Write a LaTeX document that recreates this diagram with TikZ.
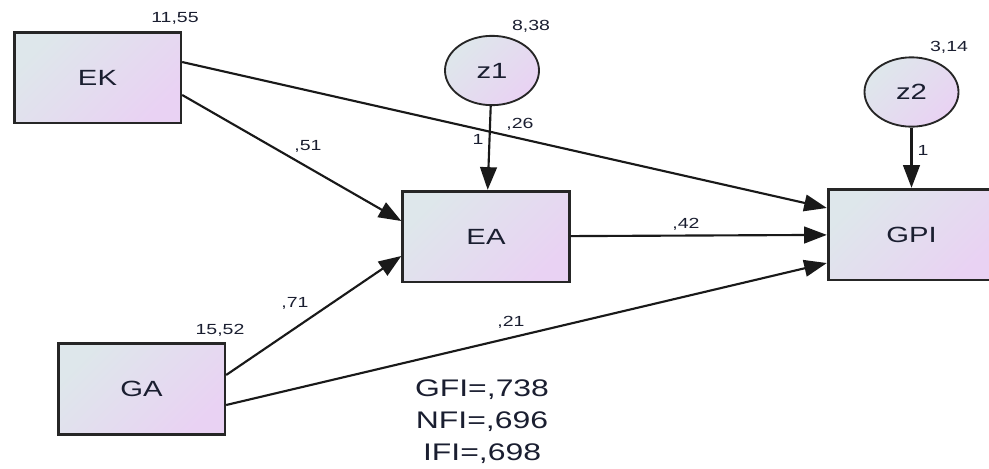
\documentclass[tikz,border=0pt]{standalone}
\usepackage{fontspec}
\setmainfont{Liberation Sans}
\usepackage{graphicx}
\usetikzlibrary{arrows.meta,shapes.geometric}
\definecolor{varA}{HTML}{DEE7EB}
\definecolor{varB}{HTML}{E9D2F3}
\definecolor{txtc}{HTML}{1A1E30}
% text in the diagram is set a little wider than the font
\newcommand{\wide}[1]{\scalebox{1.33}[1]{#1}}
\tikzset{
  var/.style={draw=black!85, line width=2pt, top color=varA, bottom color=varB, shading angle=45,
    minimum width=125pt, minimum height=68pt, inner sep=0pt, font=\fontsize{16.5}{18}\selectfont, text=txtc},
  err/.style={draw=black!85, line width=1.4pt, ellipse, top color=varA, bottom color=varB, shading angle=45,
    minimum width=70.5pt, minimum height=52pt, inner sep=0pt, font=\fontsize{16.5}{18}\selectfont, text=txtc},
  regarr/.style={-{Triangle[length=17pt, width=12.5pt]}, line width=1.6pt, black!90},
  est/.style={inner sep=0pt, font=\fontsize{11}{12}\selectfont, text=txtc},
}

\begin{document}
\begin{tikzpicture}[x=0.75pt, y=-0.75pt]
  \useasboundingbox (0,0) rectangle (989,468);
  % observed variables
  \node[var] (EK) at (97.5,77.5) {\wide{EK}};
  \node[var] (GA) at (141.5,389) {\wide{GA}};
  \node[var] (EA) at (486,236.5) {\wide{EA}};
  \node[var] (GPI) at (911.5,234.5) {\wide{GPI}};
  % residuals
  \node[err] (z1) at (492,70.5) {\wide{z1}};
  \node[err] (z2) at (911.5,92) {\wide{z2}};
  % variances
  \node[est] (vEK) at (175,18.5) {\wide{11,55}};
  \node[est] (vGA) at (220,330) {\wide{15,52}};
  \node[est] (vz1) at (531,26.5) {\wide{8,38}};
  \node[est] (vz2) at (949,47.5) {\wide{3,14}};
  % paths
  \draw[regarr] ([yshift=11.6pt]EK.east) -- ([yshift=19.9pt]GPI.west);
  \draw[regarr] ([yshift=-13.1pt]EK.east) -- ([yshift=11.6pt]EA.west);
  \draw[regarr] ([yshift=10.5pt]GA.east) -- ([yshift=-14.6pt]EA.west);
  \draw[regarr] ([yshift=-12pt]GA.east) -- ([yshift=-21.4pt]GPI.west);
  \draw[regarr] (EA) -- (GPI);
  \draw[regarr] (z1) -- (EA);
  \draw[regarr] (z2) -- (GPI);
  % path coefficients
  \node[est] (bEKEA) at (308,146) {\wide{,51}};
  \node[est] (bEKGPI) at (520,124) {\wide{,26}};
  \node[est] (bGAEA) at (295,303) {\wide{,71}};
  \node[est] (bGAGPI) at (511,322) {\wide{,21}};
  \node[est] (bEAGPI) at (686,224) {\wide{,42}};
  \node[est] (bz1) at (478,139) {\wide{1}};
  \node[est] (bz2) at (923,150) {\wide{1}};
  % fit indices
  \node[align=center, inner sep=0pt, font=\fontsize{18}{24}\selectfont, text=txtc] (fit) at (482,422)
    {\wide{GFI=,738}\\\wide{NFI=,696}\\\wide{IFI=,698}};
\end{tikzpicture}
\end{document}
